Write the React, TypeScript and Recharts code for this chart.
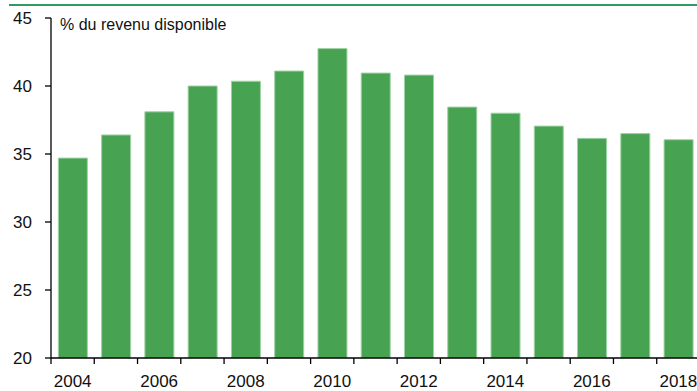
import { Bar, BarChart, XAxis, YAxis } from "recharts";

const years = [
  "2004", "2005", "2006", "2007", "2008", "2009", "2010", "2011",
  "2012", "2013", "2014", "2015", "2016", "2017", "2018",
];
const savingsRate = [
  34.7, 36.4, 38.1, 40.0, 40.35, 41.1, 42.75, 40.95,
  40.8, 38.45, 38.0, 37.05, 36.15, 36.5, 36.05,
];
const yTicks = [20, 25, 30, 35, 40, 45];

const data = years.map((y, i) => ({ year: y, value: savingsRate[i] }));

const CHART_W = 700;
const PLOT_LEFT = 51;
const BAND = (CHART_W - PLOT_LEFT) / years.length;
const TICK_SIZE = 6;
const TICK_MARGIN = 11;
const FONT = "'Liberation Sans', Arial, sans-serif";

// eslint-disable-next-line @typescript-eslint/no-explicit-any
function YearTick(props: any) {
  const { x, y, payload } = props;
  const axisY = y - TICK_SIZE - TICK_MARGIN;
  const left = x - BAND / 2;
  const even = Number(payload.value) % 2 === 0;
  return (
    <g>
      <line x1={left} x2={left} y1={axisY} y2={axisY + TICK_SIZE} stroke="#000" strokeWidth={1.3} />
      {even && (
        <text
          x={x}
          y={y}
          dy="0.71em"
          textAnchor="middle"
          fill="#111"
          fontSize={17}
          fontFamily={FONT}
        >
          {payload.value}
        </text>
      )}
    </g>
  );
}

export default function App() {
  return (
    <div
      style={{
        position: "fixed",
        left: 0,
        top: 0,
        width: 697,
        height: 391,
        overflow: "hidden",
        background: "#fff",
      }}
    >
      <div
        style={{
          position: "absolute",
          left: 9,
          right: 0,
          top: 4,
          height: 2,
          background: "#2f9a64",
        }}
      />
      <BarChart
        width={CHART_W}
        height={391}
        data={data}
        margin={{ top: 18, right: 0, left: 0, bottom: 0 }}
        barCategoryGap="17%"
      >
        <XAxis
          dataKey="year"
          interval={0}
          tickLine={false}
          tickSize={TICK_SIZE}
          tickMargin={TICK_MARGIN}
          axisLine={{ stroke: "#000", strokeWidth: 1.3 }}
          tick={<YearTick />}
          height={33}
        />
        <YAxis
          domain={[20, 45]}
          ticks={yTicks}
          interval={0}
          width={PLOT_LEFT}
          tickSize={TICK_SIZE}
          tickMargin={13}
          axisLine={{ stroke: "#000", strokeWidth: 1.3 }}
          tickLine={{ stroke: "#000", strokeWidth: 1.3 }}
          tick={{ fontSize: 17, fill: "#111", fontFamily: FONT }}
          allowDataOverflow
        />
        <Bar
          dataKey="value"
          fill="#47a251"
          stroke="#9fd1a4"
          strokeWidth={1}
          isAnimationActive={false}
        />
        <text x={60} y={30} fontSize={16} fill="#111" fontFamily={FONT}>
          % du revenu disponible
        </text>
      </BarChart>
    </div>
  );
}
